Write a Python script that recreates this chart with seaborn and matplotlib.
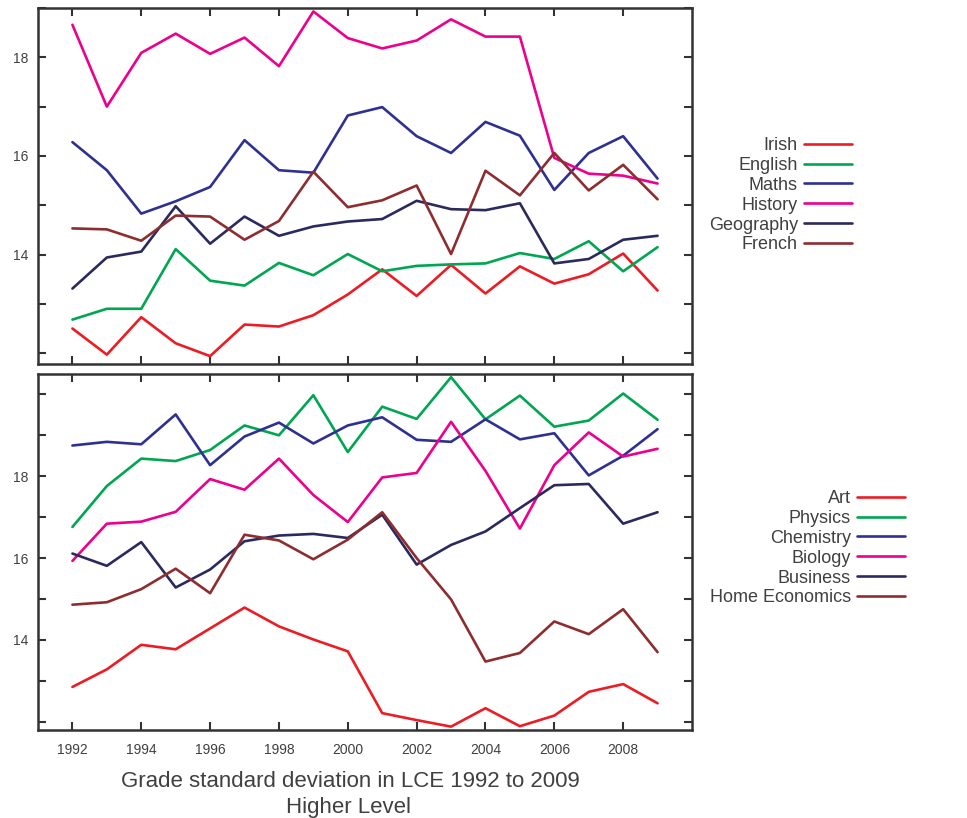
import numpy as np
import pandas as pd
import seaborn as sns
import matplotlib
matplotlib.use("Agg")
import matplotlib.pyplot as plt

years = list(range(1992, 2010))

# Top panel
irish     = [12.50, 11.97, 12.73, 12.20, 11.94, 12.58, 12.54, 12.77, 13.19, 13.70, 13.16, 13.79, 13.21, 13.76, 13.41, 13.60, 14.02, 13.27]
english   = [12.68, 12.90, 12.90, 14.11, 13.47, 13.37, 13.83, 13.58, 14.01, 13.66, 13.77, 13.80, 13.82, 14.03, 13.91, 14.27, 13.66, 14.15]
maths     = [16.28, 15.71, 14.83, 15.08, 15.37, 16.32, 15.71, 15.66, 16.82, 16.99, 16.40, 16.06, 16.69, 16.41, 15.31, 16.06, 16.40, 15.54]
history   = [18.66, 17.00, 18.09, 18.48, 18.07, 18.40, 17.82, 18.93, 18.39, 18.18, 18.34, 18.77, 18.42, 18.42, 15.96, 15.64, 15.60, 15.44]
geography = [13.31, 13.94, 14.06, 14.98, 14.22, 14.77, 14.38, 14.57, 14.67, 14.72, 15.09, 14.92, 14.90, 15.04, 13.82, 13.91, 14.30, 14.38]
french    = [14.53, 14.51, 14.28, 14.79, 14.77, 14.30, 14.68, 15.68, 14.96, 15.10, 15.40, 14.01, 15.70, 15.20, 16.06, 15.30, 15.82, 15.12]

# Bottom panel
art       = [12.85, 13.28, 13.88, 13.77, 14.28, 14.79, 14.33, 14.01, 13.72, 12.21, 12.04, 11.88, 12.33, 11.89, 12.15, 12.73, 12.92, 12.45]
physics   = [16.76, 17.76, 18.43, 18.37, 18.64, 19.24, 19.00, 19.98, 18.59, 19.70, 19.40, 20.42, 19.39, 19.97, 19.21, 19.36, 20.02, 19.38]
chemistry = [18.75, 18.84, 18.78, 19.51, 18.27, 18.97, 19.31, 18.80, 19.24, 19.44, 18.89, 18.84, 19.39, 18.90, 19.05, 18.02, 18.50, 19.15]
biology   = [15.93, 16.84, 16.89, 17.13, 17.93, 17.67, 18.43, 17.54, 16.88, 17.97, 18.08, 19.33, 18.13, 16.72, 18.27, 19.07, 18.48, 18.67]
business  = [16.11, 15.81, 16.39, 15.28, 15.72, 16.41, 16.55, 16.59, 16.49, 17.06, 15.84, 16.32, 16.65, 17.22, 17.78, 17.81, 16.84, 17.12]
home_econ = [14.86, 14.92, 15.24, 15.74, 15.14, 16.57, 16.43, 15.97, 16.45, 17.12, 16.00, 14.99, 13.47, 13.68, 14.45, 14.14, 14.75, 13.70]

top_names = ["Irish", "English", "Maths", "History", "Geography", "French"]
top_series = [irish, english, maths, history, geography, french]
bot_names = ["Art", "Physics", "Chemistry", "Biology", "Business", "Home Economics"]
bot_series = [art, physics, chemistry, biology, business, home_econ]

colors = ["#ed1c24", "#00a651", "#2e3192", "#ec008c", "#2b2a5e", "#8e2d2f"]
ytick_labels = {14: "14", 16: "16", 18: "18"}
year_labels = list(range(1992, 2010, 2))
title_lines = ["Grade standard deviation in LCE 1992 to 2009", "Higher Level"]

def long_df(names, series):
    rows = []
    for n, s in zip(names, series):
        for y, v in zip(years, s):
            rows.append((n, y, v))
    return pd.DataFrame(rows, columns=["subject", "year", "value"])

sns.set_theme(style="white")
plt.rcParams["font.family"] = ["Liberation Sans", "DejaVu Sans"]
text_color = "#404040"
frame_color = "#333333"

fig = plt.figure(figsize=(9.67, 8.18), dpi=100)
W, H = 967, 818
ax1 = fig.add_axes([38 / W, 1 - 364 / H, (692 - 38) / W, (364 - 8) / H])
ax2 = fig.add_axes([38 / W, 1 - 729.5 / H, (692 - 38) / W, (729.5 - 373.5) / H])

panels = [
    (ax1, top_names, top_series, (11.78, 19.0), range(12, 20), (852, 137)),
    (ax2, bot_names, bot_series, (11.81, 20.51), range(12, 21), (905, 490)),
]

for ax, names, series, ylim, yticks, (lx, ly) in panels:
    df = long_df(names, series)
    sns.lineplot(data=df, x="year", y="value", hue="subject", hue_order=names,
                 palette=colors, linewidth=1.9, ax=ax, legend=True)
    ax.set_xlim(1991, 2010)
    ax.set_ylim(*ylim)
    ax.set_xticks(year_labels)
    ax.set_yticks(list(yticks))
    ax.set_yticklabels([ytick_labels.get(t, "") for t in yticks])
    ax.set_xlabel("")
    ax.set_ylabel("")
    ax.tick_params(direction="in", length=6, width=1.5, color=frame_color,
                   top=True, right=True, bottom=True, left=True,
                   labelsize=10, labelcolor=text_color)
    ax.tick_params(axis="y", pad=7)
    ax.tick_params(axis="x", pad=10)
    for sp in ax.spines.values():
        sp.set_visible(True)
        sp.set_color(frame_color)
        sp.set_linewidth(1.8)
    handles, labels = ax.get_legend_handles_labels()
    ax.legend_.remove()
    leg = ax.legend(handles, labels, loc="upper right",
                    bbox_to_anchor=(lx / W, 1 - ly / H),
                    bbox_transform=fig.transFigure, frameon=False,
                    markerfirst=False, fontsize=13, handlelength=2.65,
                    handletextpad=0.35, labelspacing=0.16, borderpad=0,
                    borderaxespad=0)
    for t in leg.get_texts():
        t.set_color(text_color)

ax1.set_xticklabels([])
ax2.set_xticklabels([str(y) for y in year_labels])

fig.text(350 / W, 1 - 787 / H, title_lines[0], ha="center", va="baseline",
         fontsize=16, color=text_color)
fig.text(349 / W, 1 - 813 / H, title_lines[1], ha="center", va="baseline",
         fontsize=16, color=text_color)

fig.savefig("out.png", dpi=100)
